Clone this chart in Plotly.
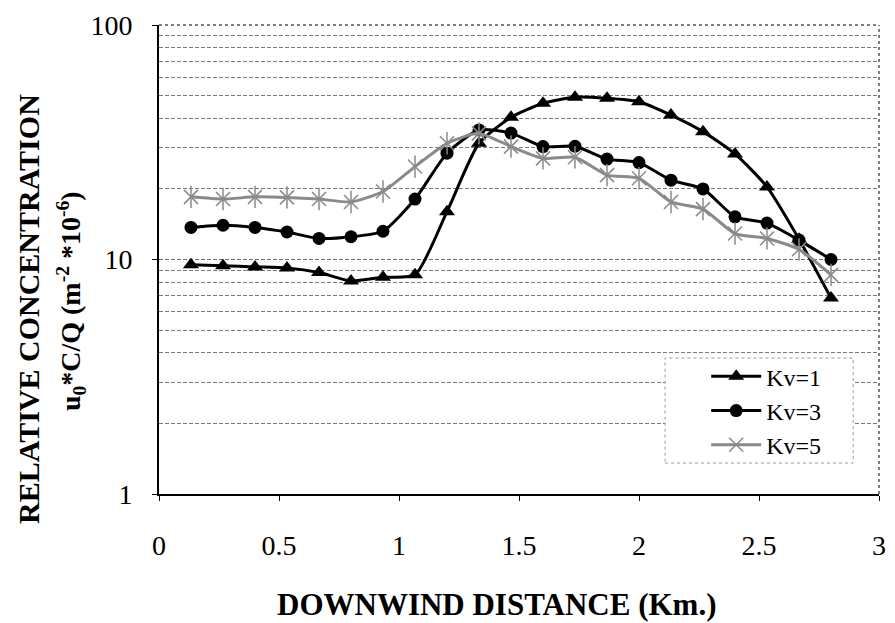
import plotly.graph_objects as go

# Downwind distance (km) of each computed receptor
distance_km = [round(k * 2.8 / 21, 4) for k in range(1, 22)]

# Relative concentration u0*C/Q (m^-2 * 10^-6) for each vertical diffusivity
kv1 = [9.5, 9.4, 9.3, 9.2, 8.8, 8.1, 8.4, 8.6, 16.0, 31.3, 40.4, 46.4, 49.2,
       48.7, 47.1, 41.3, 35.1, 28.2, 20.4, 12.2, 6.85]
kv3 = [13.7, 14.0, 13.7, 13.1, 12.3, 12.5, 13.2, 18.1, 28.4, 35.7, 34.6, 30.3,
       30.4, 26.8, 25.9, 21.8, 20.0, 15.2, 14.3, 12.1, 10.0]
kv5 = [18.5, 18.1, 18.5, 18.4, 18.1, 17.6, 19.5, 24.9, 31.3, 34.5, 30.3, 27.0,
       27.3, 22.9, 22.2, 17.6, 16.4, 12.9, 12.3, 11.05, 8.6]

series_names = ["Kv=1", "Kv=3", "Kv=5"]
x_ticks = [0, 0.5, 1, 1.5, 2, 2.5, 3]
y_major = [1, 10, 100]
y_minor = [2, 3, 4, 5, 6, 7, 8, 9, 20, 30, 40, 50, 60, 70, 80, 90]

SERIF = "Liberation Serif"
GRAY = "#8a8a8a"

fig = go.Figure()

fig.add_trace(go.Scatter(
    x=distance_km, y=kv1, name=series_names[0], mode="lines+markers",
    line=dict(color="black", width=3, shape="spline", smoothing=0.6),
    marker=dict(symbol="triangle-up", size=14, color="black"),
))
fig.add_trace(go.Scatter(
    x=distance_km, y=kv3, name=series_names[1], mode="lines+markers",
    line=dict(color="black", width=3, shape="spline", smoothing=0.6),
    marker=dict(symbol="circle", size=13, color="black"),
))
fig.add_trace(go.Scatter(
    x=distance_km, y=kv5, name=series_names[2], mode="lines+markers",
    legendgroup="kv5",
    line=dict(color=GRAY, width=3, shape="spline", smoothing=0.6),
    marker=dict(symbol="x-thin-open", size=14, color=GRAY,
                line=dict(color=GRAY, width=1.5)),
))
# vertical stroke completing the star marker
fig.add_trace(go.Scatter(
    x=distance_km, y=kv5, mode="markers", legendgroup="kv5", showlegend=False,
    marker=dict(symbol="line-ns-open", size=16, color=GRAY,
                line=dict(color=GRAY, width=1.5)),
    hoverinfo="skip",
))

fig.update_layout(
    width=895, height=623,
    margin=dict(l=159, r=9, t=25, b=129),
    paper_bgcolor="white", plot_bgcolor="white",
    font=dict(family=SERIF, color="black", size=28),
    showlegend=True,
    legend=dict(
        x=0.760, y=0.298, xanchor="left", yanchor="top",
        bgcolor="rgba(0,0,0,0)", borderwidth=0,
        font=dict(family=SERIF, size=24, color="black"),
        itemwidth=50, tracegroupgap=0,
    ),
    xaxis=dict(
        range=[0, 3], tickvals=x_ticks, ticktext=[str(v) for v in x_ticks],
        showgrid=False, zeroline=False,
        showline=True, linecolor="black", linewidth=2,
        ticks="outside", ticklen=5, tickcolor="black",
        tickfont=dict(family=SERIF, size=28),
        ticklabelstandoff=20,
    ),
    yaxis=dict(
        type="log", range=[0, 2], tickvals=y_major,
        ticktext=[str(v) for v in y_major],
        showgrid=True, gridcolor="#6e6e6e", gridwidth=1, griddash="4px,2px",
        zeroline=False,
        showline=True, linecolor="black", linewidth=2,
        ticks="outside", ticklen=5, tickcolor="black",
        tickfont=dict(family=SERIF, size=28),
        ticklabelstandoff=14,
        minor=dict(tickvals=y_minor, showgrid=True, gridcolor="#7a7a7a",
                   gridwidth=1, griddash="4px,2px", ticks=""),
    ),
    shapes=[
        dict(type="line", xref="paper", yref="paper", x0=0, x1=1, y0=1, y1=1,
             line=dict(color="#555", width=1.5, dash="dot")),
        dict(type="line", xref="paper", yref="paper", x0=1, x1=1, y0=0, y1=1,
             line=dict(color="#555", width=1.5, dash="dot")),
        # legend frame
        dict(type="rect", xref="paper", yref="paper", layer="above",
             x0=0.7029, x1=0.9642, y0=0.0660, y1=0.2900,
             fillcolor="white", line=dict(color="#9a9a9a", width=1, dash="dot")),
    ],
    annotations=[
        dict(text="<b>RELATIVE CONCENTRATION</b>", xref="paper", yref="paper",
             x=-0.1816, y=0.395, textangle=-90, showarrow=False,
             xanchor="center", yanchor="middle",
             font=dict(family=SERIF, size=30)),
        dict(text="<b>u<sub>0</sub>*C/Q (m<sup>-2</sup> *10<sup>-6</sup>)</b>",
             xref="paper", yref="paper", x=-0.1224, y=0.411, textangle=-90,
             showarrow=False, xanchor="center", yanchor="middle",
             font=dict(family=SERIF, size=28)),
        dict(text="<b>DOWNWIND DISTANCE (Km.)</b>", xref="paper", yref="paper",
             x=0.469, y=-0.235, showarrow=False, xanchor="center",
             yanchor="middle", font=dict(family=SERIF, size=31)),
    ],
)

fig.write_html("out.html")
